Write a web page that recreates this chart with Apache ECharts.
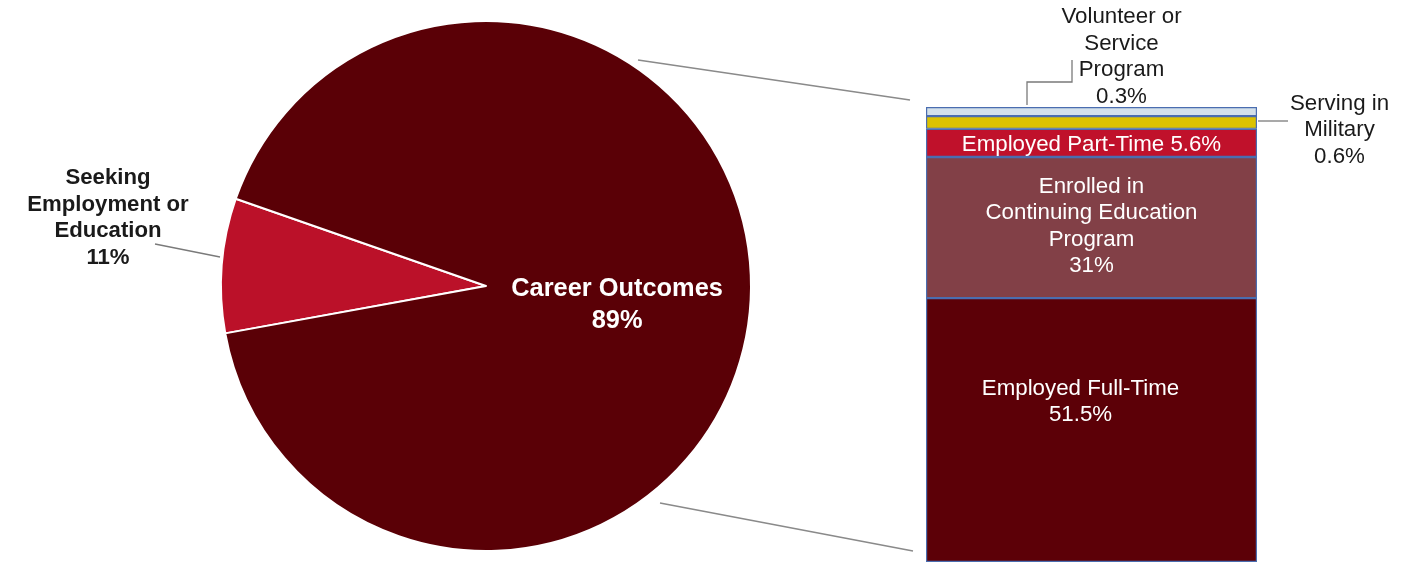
<!DOCTYPE html>
<html>
<head>
<meta charset="utf-8">
<script src="https://cdn.jsdelivr.net/npm/echarts@6/dist/echarts.min.js"></script>
<style>
html,body{margin:0;padding:0;background:#fff;}
#chart{width:1407px;height:563px;}
</style>
</head>
<body>
<div id="chart"></div>
<script>
// ---- Pie data ----
const pieNames = ['Seeking Employment or Education', 'Career Outcomes'];
const pieLabelLines = [['Seeking', 'Employment or', 'Education'], ['Career Outcomes']];
const piePercents = [11, 89];
// slice sizes as drawn in the picture (the small slice is drawn narrower than 11%)
const pieDrawnShares = [8.2, 91.8];
const pieColors = ['#bb1129', '#5a0006'];

// ---- Stacked bar data (bottom to top) ----
const barNames = ['Employed Full-Time', 'Enrolled in Continuing Education Program', 'Employed Part-Time', 'Serving in Military', 'Volunteer or Service Program'];
const barLabelLines = [
  ['Employed Full-Time'],
  ['Enrolled in', 'Continuing Education', 'Program'],
  ['Employed Part-Time'],
  ['Serving in', 'Military'],
  ['Volunteer or', 'Service', 'Program']
];
const barPercents = [51.5, 31, 5.6, 0.6, 0.3];
// segment heights as drawn in the picture (small groups are enlarged to stay visible)
const barDrawnHeights = [58, 31, 6.2, 2.8, 2.0];
const barColors = ['#5c0007', '#824047', '#c0112b', '#dcc200', '#d3e0ea'];
const barCategory = ['Career Outcomes'];

const FONT = '"Liberation Sans", Arial, sans-serif';

const chart = echarts.init(document.getElementById('chart'));

const pieData = pieNames.map((n, i) => ({
  name: n,
  value: pieDrawnShares[i],
  itemStyle: { color: pieColors[i] }
}));

const barLabelCfg = [
  { color: '#fff', offset: [-11, -28], sameLine: false },
  { color: '#fff', offset: [0, -1], sameLine: false },
  { color: '#fff', offset: [0, 2], sameLine: true },
  { color: '#1a1a1a', offset: [248, 7.5], sameLine: false },
  { color: '#1a1a1a', offset: [30, -54.5], sameLine: false }
];

const barSeries = barNames.map((n, i) => ({
  name: n,
  type: 'bar',
  stack: 'total',
  barWidth: '100%',
  data: [barDrawnHeights[i]],
  itemStyle: { color: barColors[i], borderColor: '#4a6db0', borderWidth: 1.2 },
  label: {
    show: true,
    position: 'inside',
    offset: barLabelCfg[i].offset,
    color: barLabelCfg[i].color,
    fontFamily: FONT,
    fontSize: 22.3,
    lineHeight: 26.5,
    align: 'center',
    verticalAlign: 'middle',
    formatter: () => barLabelCfg[i].sameLine
      ? barLabelLines[i].join(' ') + ' ' + barPercents[i] + '%'
      : barLabelLines[i].join('\n') + '\n' + barPercents[i] + '%'
  },
  emphasis: { disabled: true },
  silent: true
}));

const option = {
  animation: false,
  backgroundColor: '#fff',
  grid: { left: 926, right: 150, top: 107, bottom: 1, containLabel: false },
  xAxis: { type: 'category', data: barCategory, show: false },
  yAxis: { type: 'value', min: 0, max: 100, show: false },
  series: [
    {
      type: 'pie',
      center: [486, 286],
      radius: 265,
      startAngle: 190.3,
      clockwise: true,
      silent: true,
      itemStyle: { borderColor: '#fff', borderWidth: 2 },
      data: pieData,
      label: {
        show: true,
        fontFamily: FONT,
        formatter: (p) => pieLabelLines[p.dataIndex].join('\n') + '\n' + piePercents[p.dataIndex] + '%'
      },
      labelLine: { show: false },
      labelLayout: (params) => {
        if (params.dataIndex === 0) {
          return { x: 108, y: 218, align: 'center', verticalAlign: 'middle' };
        }
        return { dx: -4, dy: 8 };
      },
      emphasis: { disabled: true }
    },
    ...barSeries
  ]
};

// per-slice label styles
option.series[0].data[0].label = {
  position: 'outside', color: '#1a1a1a', fontWeight: 'bold', fontSize: 22.2, lineHeight: 26.7, align: 'center'
};
option.series[0].data[1].label = {
  position: 'inside', color: '#fff', fontWeight: 'bold', fontSize: 25.4, lineHeight: 32, align: 'center'
};

option.graphic = [
  // zoom connector lines from pie to bar
  { type: 'line', shape: { x1: 638, y1: 60, x2: 910, y2: 100 }, style: { stroke: '#8a8a8a', lineWidth: 1.5 }, silent: true },
  { type: 'line', shape: { x1: 660, y1: 503, x2: 913, y2: 551 }, style: { stroke: '#8a8a8a', lineWidth: 1.5 }, silent: true },
  // pie leader line
  { type: 'line', shape: { x1: 155, y1: 244, x2: 220, y2: 257 }, style: { stroke: '#7a7a7a', lineWidth: 1.3 }, silent: true },
  // volunteer leader
  { type: 'polyline', shape: { points: [[1027, 105], [1027, 82], [1072, 82], [1072, 60]] }, style: { stroke: '#7a7a7a', lineWidth: 1.3, fill: null }, silent: true },
  // military leader
  { type: 'line', shape: { x1: 1258, y1: 121, x2: 1288, y2: 121 }, style: { stroke: '#7a7a7a', lineWidth: 1.3 }, silent: true }
];

chart.setOption(option);
</script>
</body>
</html>
